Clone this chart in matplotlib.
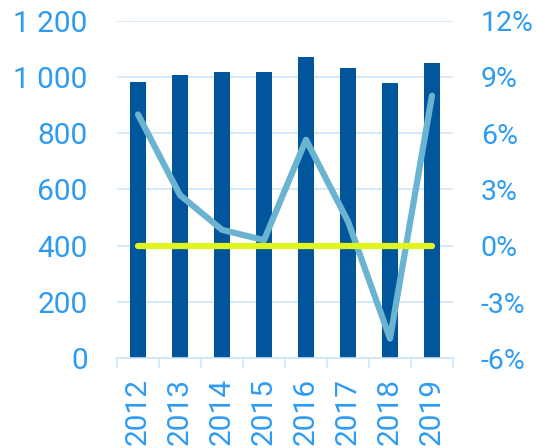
import matplotlib
matplotlib.use("Agg")
import matplotlib.pyplot as plt
from matplotlib.ticker import FuncFormatter, MultipleLocator

years = ["2012", "2013", "2014", "2015", "2016", "2017", "2018", "2019"]
volumes = [981, 1007, 1017, 1017, 1072, 1033, 977, 1051]
growth_pct = [7.0, 2.7, 0.85, 0.3, 5.65, 1.3, -4.95, 8.0]
baseline_pct = [0, 0, 0, 0, 0, 0, 0, 0]

BAR = "#00559B"
LINE = "#6AB4D2"
ZERO = "#E0F520"
TXT = "#2E9BF2"
GRID = "#CCE6FA"

plt.rcParams["font.family"] = ["Roboto", "DejaVu Sans"]

fig = plt.figure(figsize=(5.36, 4.48), dpi=100)
ax = fig.add_axes([117 / 536, (448 - 358.3) / 448, (453 - 117) / 536, 337.6 / 448])
x = list(range(len(years)))

ax.bar(x, volumes, width=0.4, color=BAR, zorder=2)
ax.set_ylim(0, 1200)
ax.set_xlim(-0.5, len(years) - 0.5)
ax.yaxis.set_major_locator(MultipleLocator(200))
ax.yaxis.set_major_formatter(FuncFormatter(lambda v, p: f"{int(v):,}".replace(",", " ")))
ax.grid(axis="y", color=GRID, linewidth=1.2, zorder=0)
ax.set_axisbelow(True)

for s in ["top", "left", "right"]:
    ax.spines[s].set_visible(False)
ax.spines["bottom"].set_color(GRID)
ax.spines["bottom"].set_linewidth(1.2)

ax.set_xticks(x)
ax.set_xticklabels(years, rotation=90)
ax.set_xticks([i - 0.5 for i in range(len(years) + 1)], minor=True)
ax.tick_params(axis="x", which="major", length=0, pad=14, labelsize=21.5, labelcolor=TXT)
ax.tick_params(axis="x", which="minor", length=7, width=1.2, color=GRID)
ax.tick_params(axis="y", length=0, pad=21, labelsize=21.5, labelcolor=TXT)

ax2 = ax.twinx()
ax2.set_ylim(-6, 12)
ax2.yaxis.set_major_locator(MultipleLocator(3))
ax2.yaxis.set_major_formatter(FuncFormatter(lambda v, p: f"{int(round(v))}%"))
for s in ax2.spines.values():
    s.set_visible(False)
ax2.tick_params(axis="y", length=0, pad=20, labelsize=20.5, labelcolor=TXT)

ax2.plot(x, growth_pct, color=LINE, linewidth=4.5, solid_capstyle="round",
         solid_joinstyle="round", zorder=3)
ax2.plot(x, baseline_pct, color=ZERO, linewidth=4.5, solid_capstyle="round", zorder=4)

fig.savefig("out.png", dpi=100)
